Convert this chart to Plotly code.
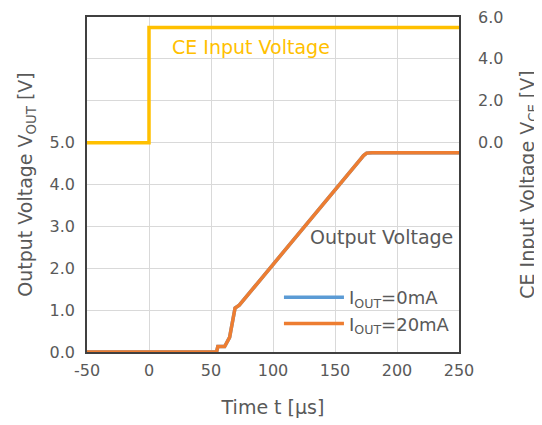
import plotly.graph_objects as go

# CE input voltage
ce_t = [-50, 0, 0, 250]
ce_v = [0, 0, 5.5, 5.5]

# Output voltage, IOUT=0mA (hidden under the 20mA trace in the reference)
out0_t = [-50, 54.5, 55.5, 61, 65, 69.4, 72.8, 100, 130, 160, 170, 173, 175.5, 180, 250]
out0_v = [0, 0, 0.13, 0.13, 0.35, 1.05, 1.12, 2.08, 3.15, 4.23, 4.58, 4.69, 4.75, 4.76, 4.76]

# Output voltage, IOUT=20mA
out20_t = [-50, 54.5, 55.5, 61, 65, 69.4, 72.8, 100, 130, 160, 170, 173, 175.5, 180, 250]
out20_v = [0, 0, 0.13, 0.13, 0.35, 1.05, 1.12, 2.08, 3.15, 4.23, 4.58, 4.69, 4.75, 4.76, 4.76]

left_ticks = [0, 1, 2, 3, 4, 5, 6, 7, 8]
left_text = ["0.0", "1.0", "2.0", "3.0", "4.0", "5.0", "", "", ""]
right_ticks = [0, 2, 4, 6]
right_text = ["0.0", "2.0", "4.0", "6.0"]
x_ticks = [-50, 0, 50, 100, 150, 200, 250]
x_text = ["-50", "0", "50", "100", "150", "200", "250"]

GRAY = "#595959"
FONT = "DejaVu Sans"

fig = go.Figure()
fig.add_trace(go.Scatter(x=ce_t, y=ce_v, mode="lines", yaxis="y2",
                         line=dict(color="#FFC000", width=3.5), showlegend=False))
fig.add_trace(go.Scatter(x=out0_t, y=out0_v, mode="lines", name="I<sub>OUT</sub>=0mA",
                         line=dict(color="#5B9BD5", width=3.5)))
fig.add_trace(go.Scatter(x=out20_t, y=out20_v, mode="lines", name="I<sub>OUT</sub>=20mA",
                         line=dict(color="#ED7D31", width=3.5)))

fig.update_layout(
    width=542, height=425,
    margin=dict(l=79, r=91, t=9, b=81),
    paper_bgcolor="white", plot_bgcolor="white",
    font=dict(family=FONT, size=16, color=GRAY),
    xaxis=dict(range=[-50, 250], tickvals=x_ticks, ticktext=x_text, showgrid=True,
               gridcolor="#D9D9D9", showline=True, linecolor="#404040", linewidth=1.5,
               mirror=True, zeroline=False, ticks="", automargin=False, ticklabelstandoff=3,
               ticklabeloverflow="allow", tickfont=dict(size=16),
               title=dict(text="Time t [µs]", font=dict(size=19), standoff=22)),
    yaxis=dict(range=[0, 8], tickvals=left_ticks, ticktext=left_text, showgrid=True,
               gridcolor="#D9D9D9", showline=True, linecolor="#404040", linewidth=1.5,
               mirror=True, zeroline=False, ticks="", automargin=False, ticklabelstandoff=7,
               ticklabeloverflow="allow", tickfont=dict(size=16),
               title=dict(text="Output Voltage V<sub>OUT</sub> [V]", font=dict(size=19), standoff=12)),
    yaxis2=dict(range=[-10, 6], tickvals=right_ticks, ticktext=right_text, overlaying="y",
                side="right", showgrid=False, zeroline=False, ticks="", automargin=False,
                ticklabelstandoff=18, ticklabeloverflow="allow", tickfont=dict(size=16),
                title=dict(text="CE Input Voltage V<sub>CE</sub> [V]", font=dict(size=19), standoff=18)),
    legend=dict(x=0.516, y=0.218, xanchor="left", yanchor="top", bgcolor="rgba(0,0,0,0)",
                font=dict(size=18, color=GRAY), itemwidth=60, tracegroupgap=0),
    annotations=[
        dict(x=0.223, y=0.91, xref="paper", yref="paper", text="CE Input Voltage",
             showarrow=False, xanchor="left", yanchor="middle",
             font=dict(size=19, color="#FFC000")),
        dict(x=0.989, y=0.343, xref="paper", yref="paper", text="Output Voltage",
             showarrow=False, xanchor="right", yanchor="middle",
             font=dict(size=19, color=GRAY)),
    ],
)

fig.write_html("out.html")
